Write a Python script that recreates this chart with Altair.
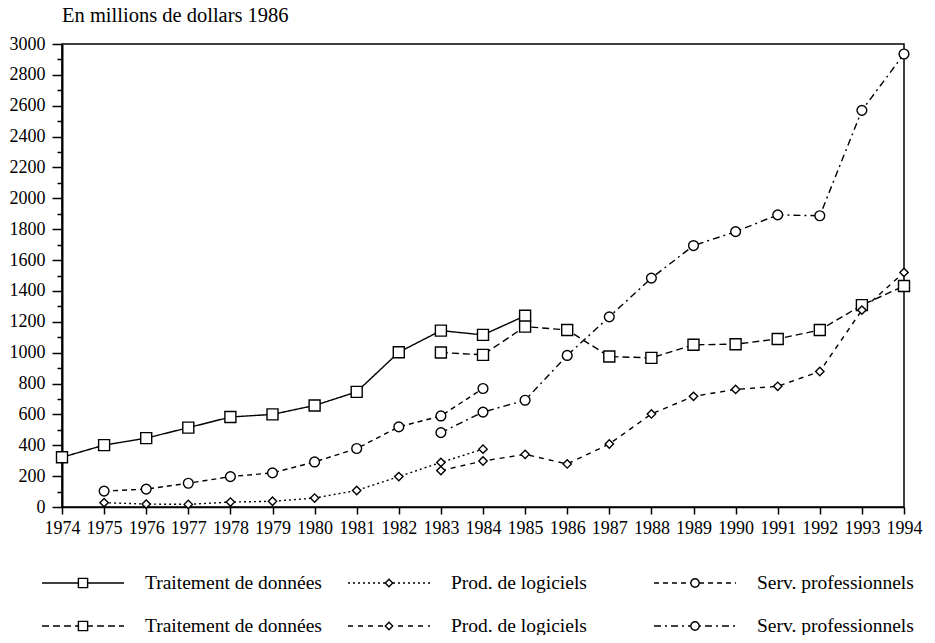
import altair as alt
import pandas as pd

# ---------------- data ----------------
years = list(range(1974, 1995))
title_text = "En millions de dollars 1986"

series_keys = [
    "Traitement de données|1",
    "Prod. de logiciels|1",
    "Serv. professionnels|1",
    "Traitement de données|2",
    "Prod. de logiciels|2",
    "Serv. professionnels|2",
]
series_markers = ["square", "diamond", "circle", "square", "diamond", "circle"]
series_start = [1974, 1975, 1975, 1983, 1983, 1983]

td_1 = [322, 401, 446, 514, 583, 600, 658, 746, 1003, 1143, 1115, 1239]            # 1974-1985
pl_1 = [28, 19, 17, 32, 37, 58, 107, 197, 289, 375]                                 # 1975-1984
sp_1 = [103, 116, 154, 197, 221, 292, 379, 519, 590, 768]                           # 1975-1984
td_2 = [1001, 986, 1169, 1147, 975, 966, 1051, 1055, 1089, 1147, 1308, 1432]        # 1983-1994
pl_2 = [236, 298, 341, 279, 408, 603, 717, 762, 782, 878, 1276, 1520]               # 1983-1994
sp_2 = [482, 615, 692, 982, 1232, 1483, 1694, 1784, 1893, 1887, 2570, 2935]         # 1983-1994
series_values = [td_1, pl_1, sp_1, td_2, pl_2, sp_2]

rows = []
for key, start, marker, vals in zip(series_keys, series_start, series_markers, series_values):
    for i, v in enumerate(vals):
        rows.append({"annee": start + i, "valeur": v, "serie": key, "marqueur": marker})
df = pd.DataFrame(rows)

# legend table (built from the series keys: 2 rows x 3 columns)
legend_df = pd.DataFrame({
    "serie": series_keys,
    "libelle": [k.split("|")[0] for k in series_keys],
    "rang": [int(k.split("|")[1]) - 1 for k in series_keys],
    "colonne": [i % 3 for i in range(len(series_keys))],
    "marqueur": series_markers,
})

# ---------------- styles ----------------
FONT = "Liberation Serif"
line_dashes = [[1, 0], [2, 3], [5, 4], [7, 4], [5, 5], [7, 4, 2, 4]]
dash_scale = alt.Scale(domain=series_keys, range=line_dashes)

# ---------------- main plot ----------------
x_enc = alt.X(
    "annee:Q",
    scale=alt.Scale(domain=[1974, 1994], nice=False, zero=False),
    axis=alt.Axis(
        values=years, format="d", title=None, grid=False,
        tickSize=7, tickWidth=1.5, tickColor="black",
        domainColor="black", domainWidth=1.5,
        labelFont=FONT, labelFontSize=18, labelColor="black",
        labelPadding=5, labelFlush=False, labelOverlap=False,
    ),
)
y_enc = alt.Y(
    "valeur:Q",
    scale=alt.Scale(domain=[0, 3000], nice=False),
    axis=alt.Axis(
        values=list(range(0, 3001, 100)), format="d", title=None, grid=False,
        labelExpr="datum.value % 200 === 0 ? datum.label : ''",
        tickSize={"condition": {"test": "datum.value % 200 === 0", "value": 10}, "value": 5},
        tickWidth=1.5, tickColor="black",
        domainColor="black", domainWidth=2,
        labelFont=FONT, labelFontSize=18, labelColor="black",
        labelPadding=7, labelOverlap=False,
    ),
)

base = alt.Chart(df)

lines = base.mark_line(color="black", strokeWidth=1.4).encode(
    x=x_enc,
    y=y_enc,
    detail="serie:N",
    strokeDash=alt.StrokeDash("serie:N", scale=dash_scale, legend=None),
)


def markers(chart, shape, size, x, y, **kw):
    return (
        chart.transform_filter(alt.datum.marqueur == shape)
        .mark_point(shape=shape, size=size, filled=True, fill="white",
                    stroke="black", strokeWidth=1.4, opacity=1, **kw)
        .encode(x=x, y=y)
    )


main = alt.layer(
    lines,
    markers(base, "square", 121, x_enc, y_enc),
    markers(base, "diamond", 70, x_enc, y_enc),
    markers(base, "circle", 95, x_enc, y_enc),
)

# ---------------- legend (drawn from the legend table) ----------------
SYM_W = 82
lbase = alt.Chart(legend_df)
lx = alt.X("colonne:Q", scale=alt.Scale(domain=[0, 2], range=[-20, 592]), axis=None)
ly = alt.Y("rang:Q", scale=alt.Scale(domain=[0, 1], range=[539, 582]), axis=None)

leg_lines = lbase.mark_rule(color="black", strokeWidth=1.3, x2Offset=SYM_W).encode(
    x=lx,
    x2=alt.X2("colonne:Q"),
    y=ly,
    strokeDash=alt.StrokeDash("serie:N", scale=dash_scale, legend=None),
)
leg_text = lbase.mark_text(
    align="left", baseline="middle", font=FONT, fontSize=19.5, color="black", dx=103
).encode(x=lx, y=ly, text="libelle:N")

legend = alt.layer(
    leg_lines,
    markers(lbase, "square", 85, lx, ly, xOffset=SYM_W / 2),
    markers(lbase, "diamond", 55, lx, ly, xOffset=SYM_W / 2),
    markers(lbase, "circle", 70, lx, ly, xOffset=SYM_W / 2),
    leg_text,
)

chart = (
    alt.layer(main, legend)
    .resolve_scale(x="independent", y="independent")
    .properties(
        width=842,
        height=463,
        title=alt.TitleParams(
            title_text, anchor="start", frame="group", font=FONT, fontSize=20.5,
            fontWeight="normal", color="black", offset=9,
        ),
        autosize=alt.AutoSizeParams(type="none"),
        padding={"left": 54, "top": 36, "right": 23, "bottom": 128},
        background="white",
    )
    .configure_view(stroke="black", strokeWidth=1.5)
)

chart.save("out.html", embed_options={"renderer": "svg", "actions": False})
